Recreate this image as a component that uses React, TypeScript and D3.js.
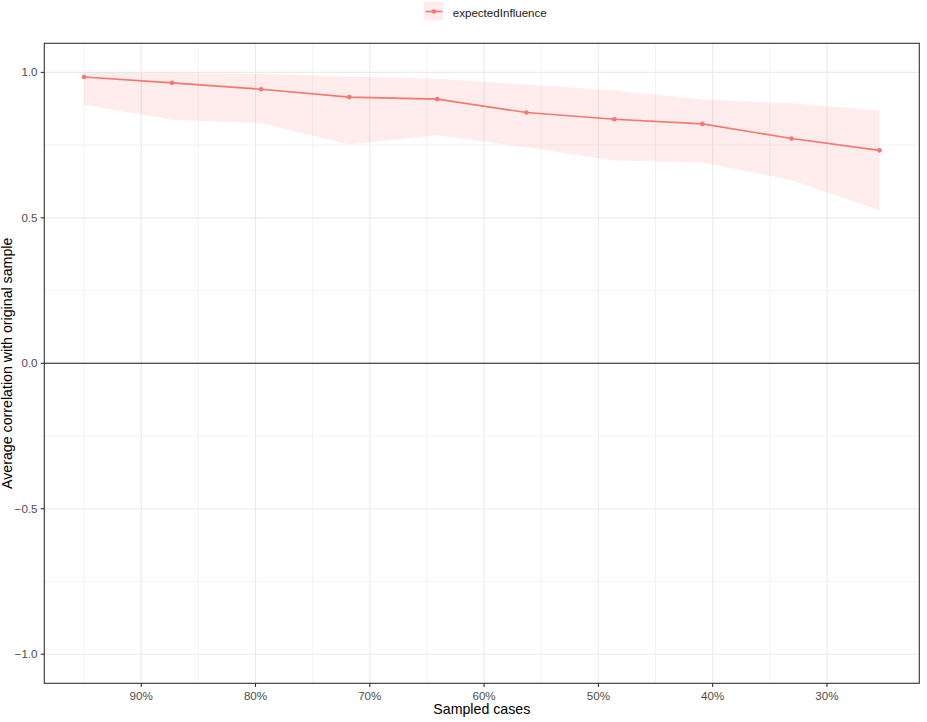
import React from "react";
import * as d3 from "d3";

const sampledPct = [95, 87.3, 79.5, 71.8, 64.1, 56.3, 48.6, 40.9, 33.1, 25.4];
const meanCor = [0.984, 0.964, 0.942, 0.915, 0.908, 0.862, 0.839, 0.823, 0.773, 0.732];
const upperCor = [1.0, 0.998, 0.995, 0.986, 0.978, 0.958, 0.938, 0.907, 0.894, 0.869];
const lowerCor = [0.889, 0.837, 0.825, 0.752, 0.784, 0.743, 0.697, 0.690, 0.629, 0.526];
const seriesName = "expectedInfluence";
const xTicks = [90, 80, 70, 60, 50, 40, 30];
const xMinor = [95, 85, 75, 65, 55, 45, 35];
const yTicks = [-1, -0.5, 0, 0.5, 1];
const yMinor = [-0.75, -0.25, 0.25, 0.75];

const W = 927;
const H = 722;
const P = { left: 44.3, right: 919.3, top: 43.3, bottom: 683.3 };
const COLOR = "#F8766D";
const FONT = "'Liberation Sans', Arial, sans-serif";

export default function App() {
  const xExt = d3.extent(sampledPct) as [number, number];
  const pad = (xExt[1] - xExt[0]) * 0.05;
  const x = d3
    .scaleLinear()
    .domain([xExt[1] + pad, xExt[0] - pad])
    .range([P.left, P.right]);
  const y = d3.scaleLinear().domain([-1.1, 1.1]).range([P.bottom, P.top]);

  const rows = sampledPct.map((s, i) => ({
    s,
    m: meanCor[i],
    lo: lowerCor[i],
    hi: upperCor[i],
  }));

  const area = d3
    .area<any>()
    .x((d) => x(d.s))
    .y0((d) => y(d.lo))
    .y1((d) => y(d.hi));
  const line = d3
    .line<any>()
    .x((d) => x(d.s))
    .y((d) => y(d.m));

  const fmtY = (v: number) => (v === 0 ? "0.0" : d3.format(".1f")(v));

  return (
    <svg
      width={W}
      height={H}
      style={{ position: "absolute", left: 0, top: 0, background: "#fff" }}
      fontFamily={FONT}
    >
      <rect x={0} y={0} width={W} height={H} fill="#fff" />
      {/* legend */}
      <g>
        <rect x={424} y={1.5} width={19.5} height={19} fill={COLOR} fillOpacity={0.13} />
        <line x1={425.5} x2={442.5} y1={11.5} y2={11.5} stroke={COLOR} strokeWidth={1.6} />
        <circle cx={434} cy={11.5} r={2.3} fill={COLOR} />
        <text x={452.7} y={17} fontSize={11.6} fill="#1a1a1a">
          {seriesName}
        </text>
      </g>

      {/* grid */}
      <g>
        {yMinor.map((v) => (
          <line key={"ym" + v} x1={P.left} x2={P.right} y1={y(v)} y2={y(v)} stroke="#EBEBEB" strokeWidth={0.6} />
        ))}
        {xMinor.map((v) => (
          <line key={"xm" + v} x1={x(v)} x2={x(v)} y1={P.top} y2={P.bottom} stroke="#EBEBEB" strokeWidth={0.6} />
        ))}
        {yTicks.map((v) => (
          <line key={"yM" + v} x1={P.left} x2={P.right} y1={y(v)} y2={y(v)} stroke="#EBEBEB" strokeWidth={1.1} />
        ))}
        {xTicks.map((v) => (
          <line key={"xM" + v} x1={x(v)} x2={x(v)} y1={P.top} y2={P.bottom} stroke="#EBEBEB" strokeWidth={1.1} />
        ))}
      </g>

      {/* zero line */}
      <line x1={P.left} x2={P.right} y1={y(0)} y2={y(0)} stroke="#1a1a1a" strokeWidth={1.1} />

      {/* ribbon, line, points */}
      <path d={area(rows) || ""} fill={COLOR} fillOpacity={0.13} stroke="none" />
      <path d={line(rows) || ""} fill="none" stroke={COLOR} strokeWidth={1.6} />
      {rows.map((d, i) => (
        <circle key={i} cx={x(d.s)} cy={y(d.m)} r={2.3} fill={COLOR} />
      ))}

      {/* panel border */}
      <rect
        x={P.left}
        y={P.top}
        width={P.right - P.left}
        height={P.bottom - P.top}
        fill="none"
        stroke="#333333"
        strokeWidth={1.1}
      />

      {/* y axis */}
      <g>
        {yTicks.map((v) => (
          <g key={"yt" + v}>
            <line x1={P.left - 3.6} x2={P.left} y1={y(v)} y2={y(v)} stroke="#333333" strokeWidth={1.1} />
            <text x={37.5} y={y(v)} dy="0.35em" textAnchor="end" fontSize={11.6} fill="#4D4D4D">
              {fmtY(v)}
            </text>
          </g>
        ))}
      </g>

      {/* x axis */}
      <g>
        {xTicks.map((v) => (
          <g key={"xt" + v}>
            <line x1={x(v)} x2={x(v)} y1={P.bottom} y2={P.bottom + 3.6} stroke="#333333" strokeWidth={1.1} />
            <text x={x(v)} y={700.2} textAnchor="middle" fontSize={11.6} fill="#4D4D4D">
              {v + "%"}
            </text>
          </g>
        ))}
      </g>

      {/* axis titles */}
      <text x={(P.left + P.right) / 2} y={714.3} textAnchor="middle" fontSize={14.2} fill="#000">
        Sampled cases
      </text>
      <text
        transform={`translate(12,${(P.top + P.bottom) / 2}) rotate(-90)`}
        textAnchor="middle"
        fontSize={14.2}
        fill="#000"
      >
        Average correlation with original sample
      </text>
    </svg>
  );
}
